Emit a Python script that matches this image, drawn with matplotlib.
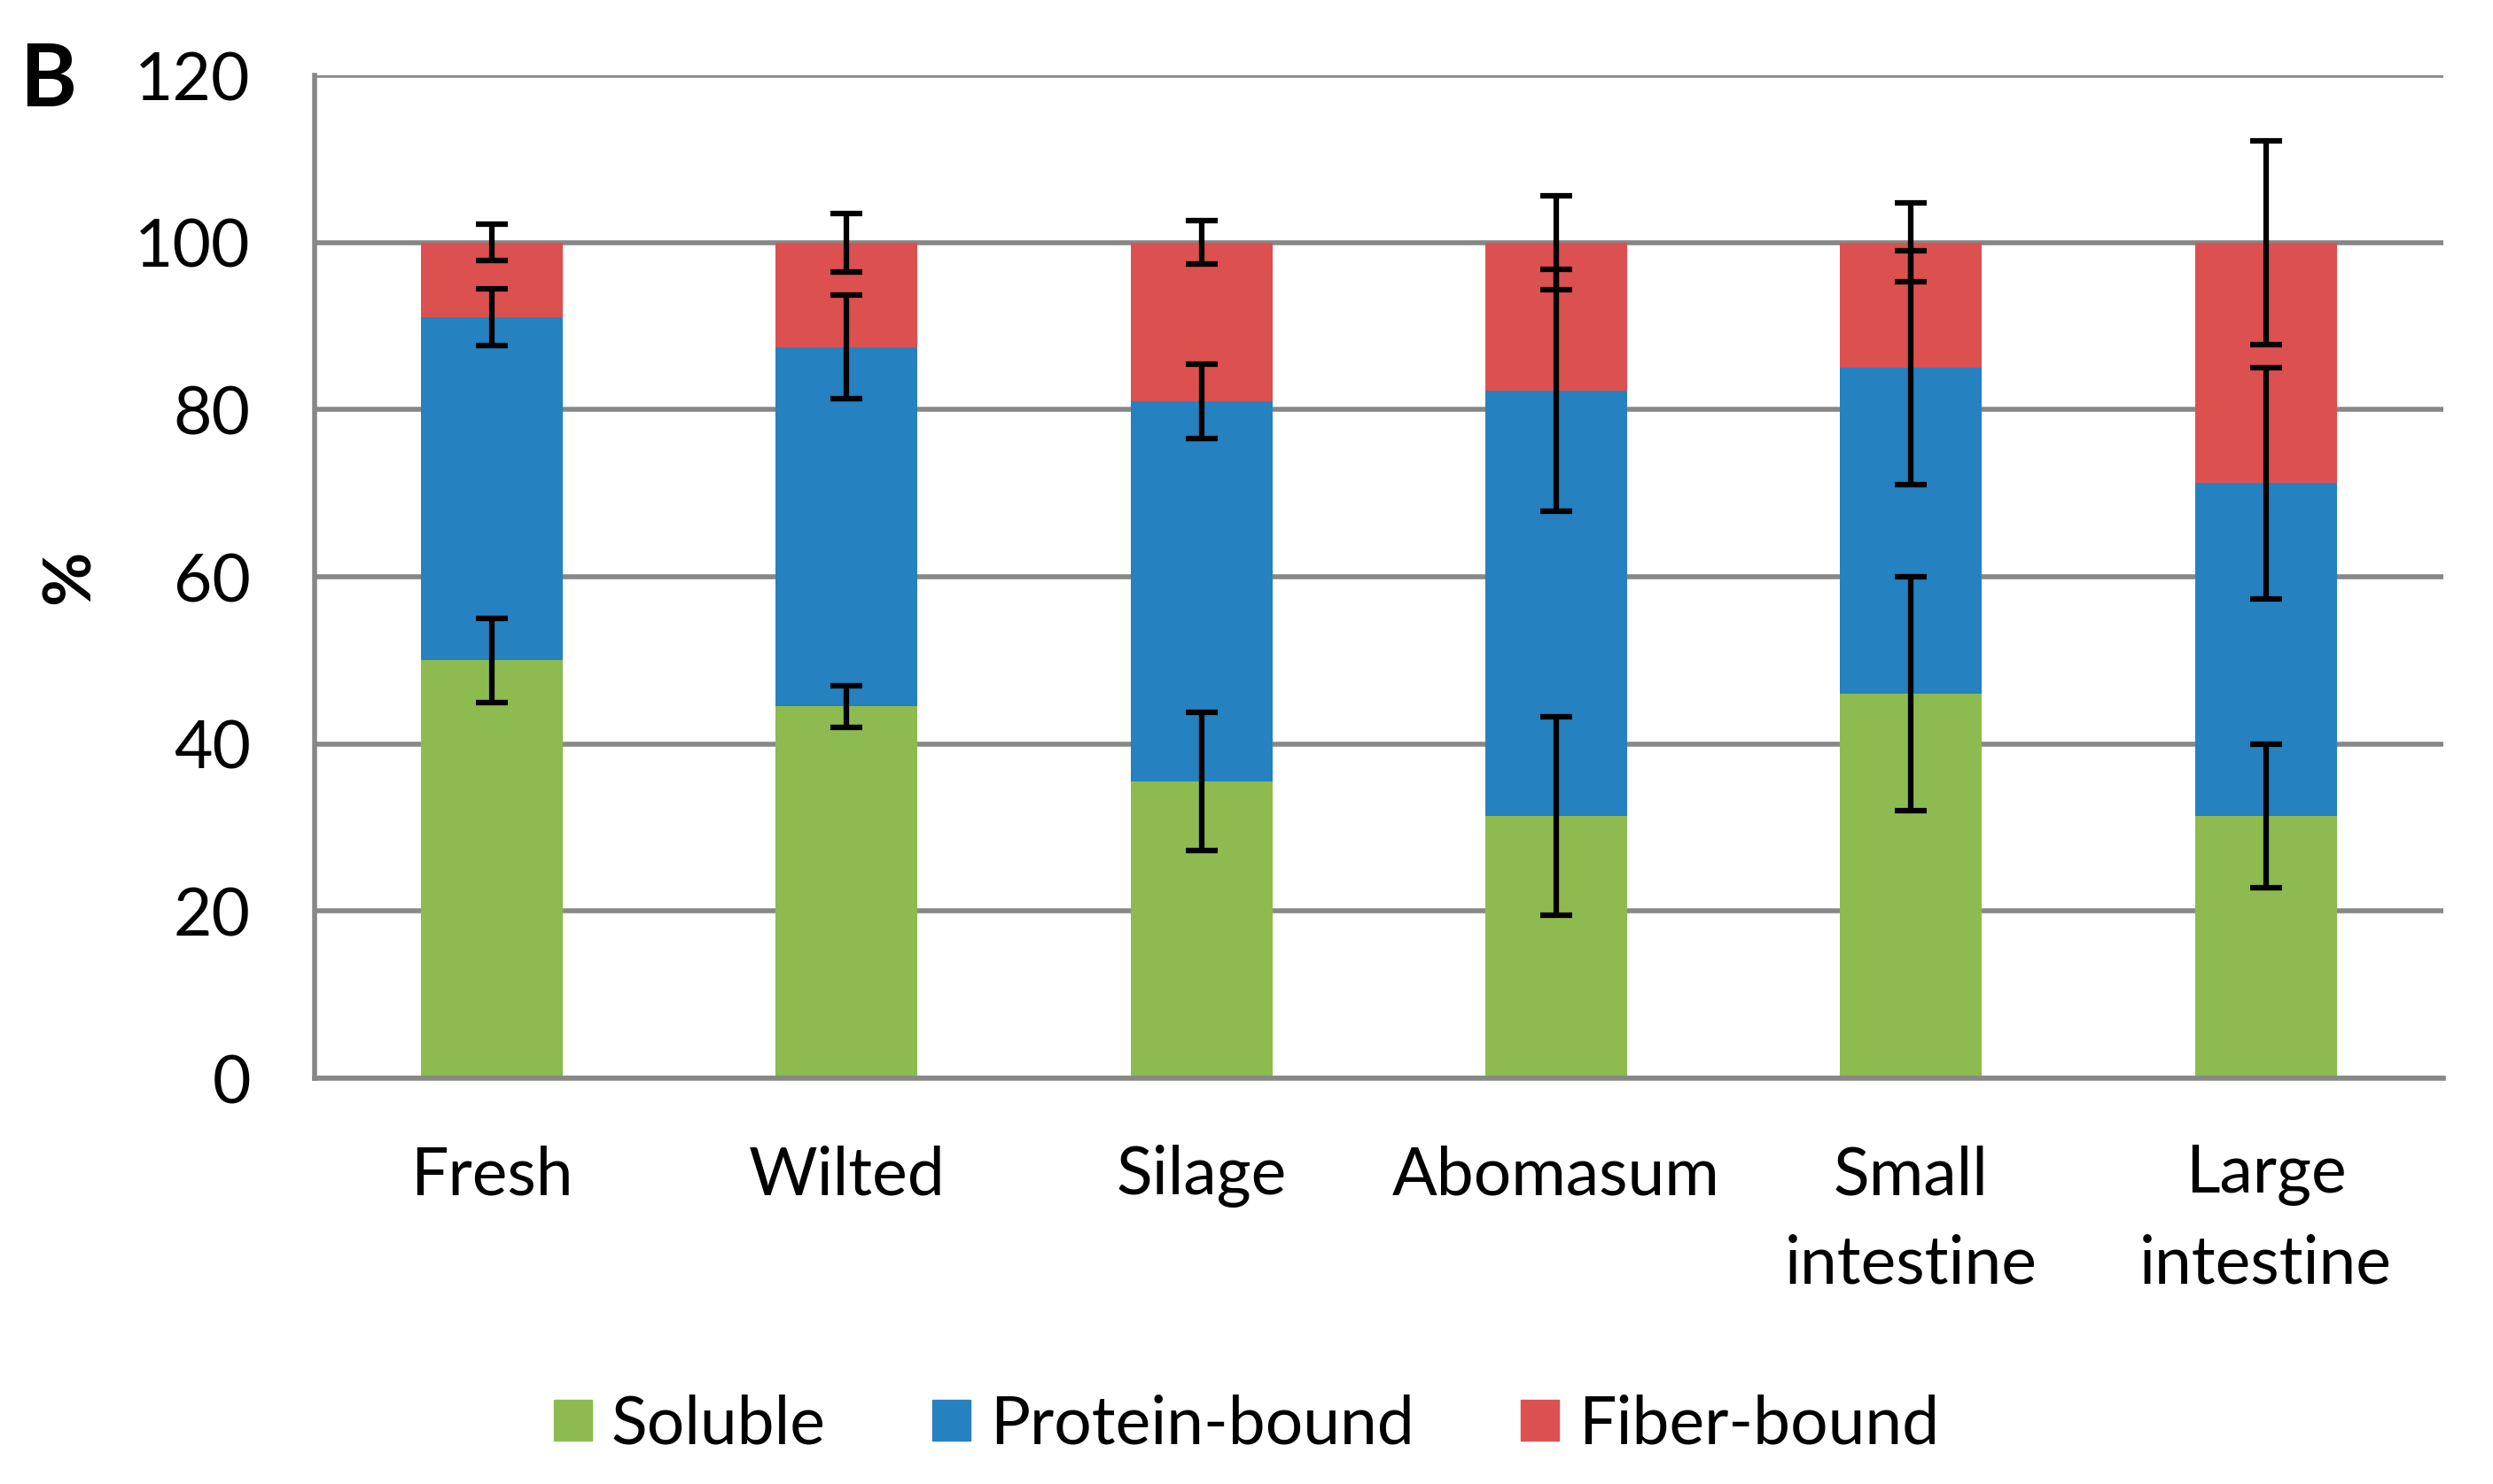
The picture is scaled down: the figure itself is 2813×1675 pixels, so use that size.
import numpy as np
import matplotlib.pyplot as plt
from matplotlib.patches import Patch

# Data
categories = ['Fresh', 'Wilted', 'Silage', 'Abomasum', 'Small\nintestine', 'Large\nintestine']
soluble = [50.0, 44.5, 35.5, 31.4, 46.0, 31.4]
protein = [41.1, 43.0, 45.5, 50.9, 39.0, 39.8]
fiber = [8.9, 12.5, 19.0, 17.7, 15.0, 28.8]
soluble_err = [5.0, 2.5, 8.3, 11.9, 14.0, 8.6]
protein_err = [3.4, 6.2, 4.5, 14.5, 14.0, 13.8]
fiber_err = [2.15, 3.5, 2.6, 5.6, 4.7, 12.2]

green, blue, red = '#8DBB50', '#2581C0', '#DD5050'
grid_col = '#878787'

plt.rcParams['font.family'] = ['Lato', 'DejaVu Sans']

fig = plt.figure(figsize=(28.13, 16.75), dpi=100)
ax = fig.add_axes([0.1262, 0.2734, 0.8538, 0.6758])

x = np.arange(len(categories))
w = 0.40
sol = np.array(soluble)
pro = np.array(protein)
fib = np.array(fiber)

ax.bar(x, sol, w, color=green, zorder=2)
ax.bar(x, pro, w, bottom=sol, color=blue, zorder=2)
ax.bar(x, fib, w, bottom=sol + pro, color=red, zorder=2)

ekw = dict(fmt='none', ecolor='black', elinewidth=4.5, capsize=13, capthick=4.5, zorder=3)
ax.errorbar(x, sol, yerr=soluble_err, **ekw)
ax.errorbar(x, sol + pro, yerr=protein_err, **ekw)
ax.errorbar(x, sol + pro + fib, yerr=fiber_err, **ekw)

ax.set_xlim(-0.5, len(categories) - 0.5)
ax.set_ylim(0, 120)
ax.set_yticks(np.arange(0, 121, 20))
ax.yaxis.grid(True, color=grid_col, linewidth=4, zorder=0)
ax.set_axisbelow(True)
for s in ['right', 'top']:
    ax.spines[s].set_visible(False)
for s in ['left', 'bottom']:
    ax.spines[s].set_color(grid_col)
    ax.spines[s].set_linewidth(4)

ax.set_xticks(x)
ax.set_xticklabels(categories, fontsize=54, linespacing=1.57)
ax.tick_params(axis='x', length=0, pad=54)
ax.tick_params(axis='y', length=0, pad=52, labelsize=54)

ax.set_ylabel('%', fontsize=54, fontweight='bold', labelpad=28)
fig.text(0.008, 0.972, 'B', fontsize=70, fontweight='bold', va='top', ha='left')

handles = [Patch(color=green), Patch(color=blue), Patch(color=red)]
fig.legend(handles, ['Soluble', 'Protein-bound', 'Fiber-bound'], loc='center',
           bbox_to_anchor=(0.5, 0.04), ncol=3, frameon=False, fontsize=54,
           handlelength=0.57, handleheight=0.57, handletextpad=0.3, columnspacing=1.6)

fig.savefig('out.png', dpi=100)
